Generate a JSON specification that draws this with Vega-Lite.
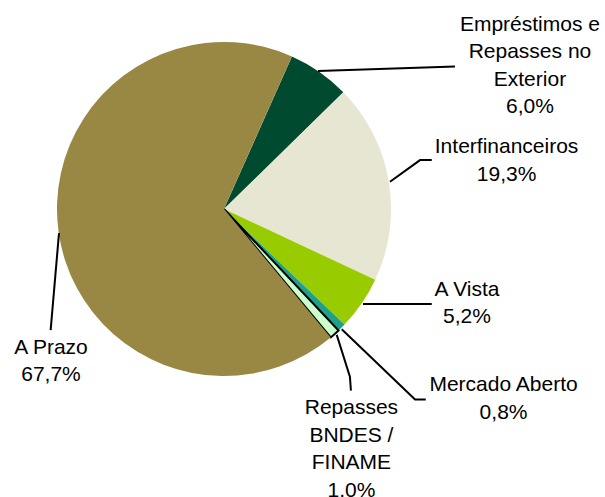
{
  "$schema": "https://vega.github.io/schema/vega-lite/v6.json",
  "width": 448,
  "height": 418,
  "autosize": "none",
  "padding": {"left": 0, "top": 0, "right": 157, "bottom": 79},
  "background": "white",
  "config": {"view": {"stroke": null}},
  "datasets": {
    "slices": [
      {"cat": "Empréstimos e Repasses no Exterior", "value": 6.0, "ord": 1},
      {"cat": "Interfinanceiros", "value": 19.3, "ord": 2},
      {"cat": "A Vista", "value": 5.2, "ord": 3},
      {"cat": "Mercado Aberto", "value": 0.8, "ord": 4},
      {"cat": "Repasses BNDES / FINAME", "value": 1.0, "ord": 5},
      {"cat": "A Prazo", "value": 67.7, "ord": 6}
    ],
    "leaders": [
      {"cat": "Empréstimos", "i": 1, "x": 56.3, "y": 82.6},
      {"cat": "Empréstimos", "i": 2, "x": 138.3, "y": 85.3},
      {"cat": "Interfinanceiros", "i": 1, "x": 99.4, "y": 16.3},
      {"cat": "Interfinanceiros", "i": 2, "x": 117.4, "y": 29.3},
      {"cat": "Interfinanceiros", "i": 3, "x": 124.4, "y": 29.3},
      {"cat": "A Vista", "i": 1, "x": 83.2, "y": -56.9},
      {"cat": "A Vista", "i": 2, "x": 124.4, "y": -56.9},
      {"cat": "Mercado Aberto", "i": 1, "x": 70.5, "y": -72.0},
      {"cat": "Mercado Aberto", "i": 2, "x": 114.4, "y": -114.0},
      {"cat": "Mercado Aberto", "i": 3, "x": 120.8, "y": -114.0},
      {"cat": "Repasses", "i": 1, "x": 67.5, "y": -75.4},
      {"cat": "Repasses", "i": 2, "x": 75.4, "y": -100.4},
      {"cat": "Repasses", "i": 3, "x": 76.0, "y": -108.8},
      {"cat": "A Prazo", "i": 1, "x": -98.8, "y": -14.4},
      {"cat": "A Prazo", "i": 2, "x": -103.8, "y": -72.5}
    ],
    "labels": [
      {"label": "Empréstimos e\nRepasses no\nExterior\n6,0%", "x": 183.2, "y": 110.2},
      {"label": "Interfinanceiros\n19,3%", "x": 169.2, "y": 37.1},
      {"label": "A Vista\n5,2%", "x": 145.5, "y": -48.5},
      {"label": "Mercado Aberto\n0,8%", "x": 167.4, "y": -105.4},
      {"label": "Repasses\nBNDES /\nFINAME\n1,0%", "x": 76.3, "y": -119.2},
      {"label": "A Prazo\n67,7%", "x": -103.6, "y": -83.2}
    ]
  },
  "layer": [
    {
      "data": {"name": "slices"},
      "mark": {"type": "arc", "outerRadius": 167},
      "encoding": {
        "theta": {"field": "value", "type": "quantitative", "stack": true, "scale": {"range": [0.419, 6.702]}},
        "order": {"field": "ord", "type": "quantitative"},
        "color": {
          "field": "cat", "type": "nominal", "legend": null,
          "scale": {
            "domain": ["Empréstimos e Repasses no Exterior", "Interfinanceiros", "A Vista", "Mercado Aberto", "Repasses BNDES / FINAME", "A Prazo"],
            "range": ["#004a30", "#e6e6d2", "#99cc00", "#1fa08a", "#ccffcc", "#998844"]
          }
        },
        "stroke": {"condition": {"test": "datum.cat === 'Repasses BNDES / FINAME'", "value": "black"}, "value": null},
        "strokeWidth": {"condition": {"test": "datum.cat === 'Repasses BNDES / FINAME'", "value": 2}, "value": 0}
      }
    },
    {
      "data": {"name": "leaders"},
      "mark": {"type": "line", "color": "black", "strokeWidth": 2},
      "encoding": {
        "x": {"field": "x", "type": "quantitative", "axis": null, "scale": {"domain": [-134.13, 134.13], "nice": false, "zero": false}},
        "y": {"field": "y", "type": "quantitative", "axis": null, "scale": {"domain": [-125.15, 125.15], "nice": false, "zero": false}},
        "detail": {"field": "cat", "type": "nominal"},
        "order": {"field": "i", "type": "quantitative"}
      }
    },
    {
      "data": {"name": "labels"},
      "mark": {"type": "text", "font": "Liberation Sans", "fontSize": 21, "lineHeight": 27.5, "lineBreak": "\n", "align": "center", "baseline": "middle", "color": "black"},
      "encoding": {
        "x": {"field": "x", "type": "quantitative"},
        "y": {"field": "y", "type": "quantitative"},
        "text": {"field": "label", "type": "nominal"}
      }
    }
  ]
}
